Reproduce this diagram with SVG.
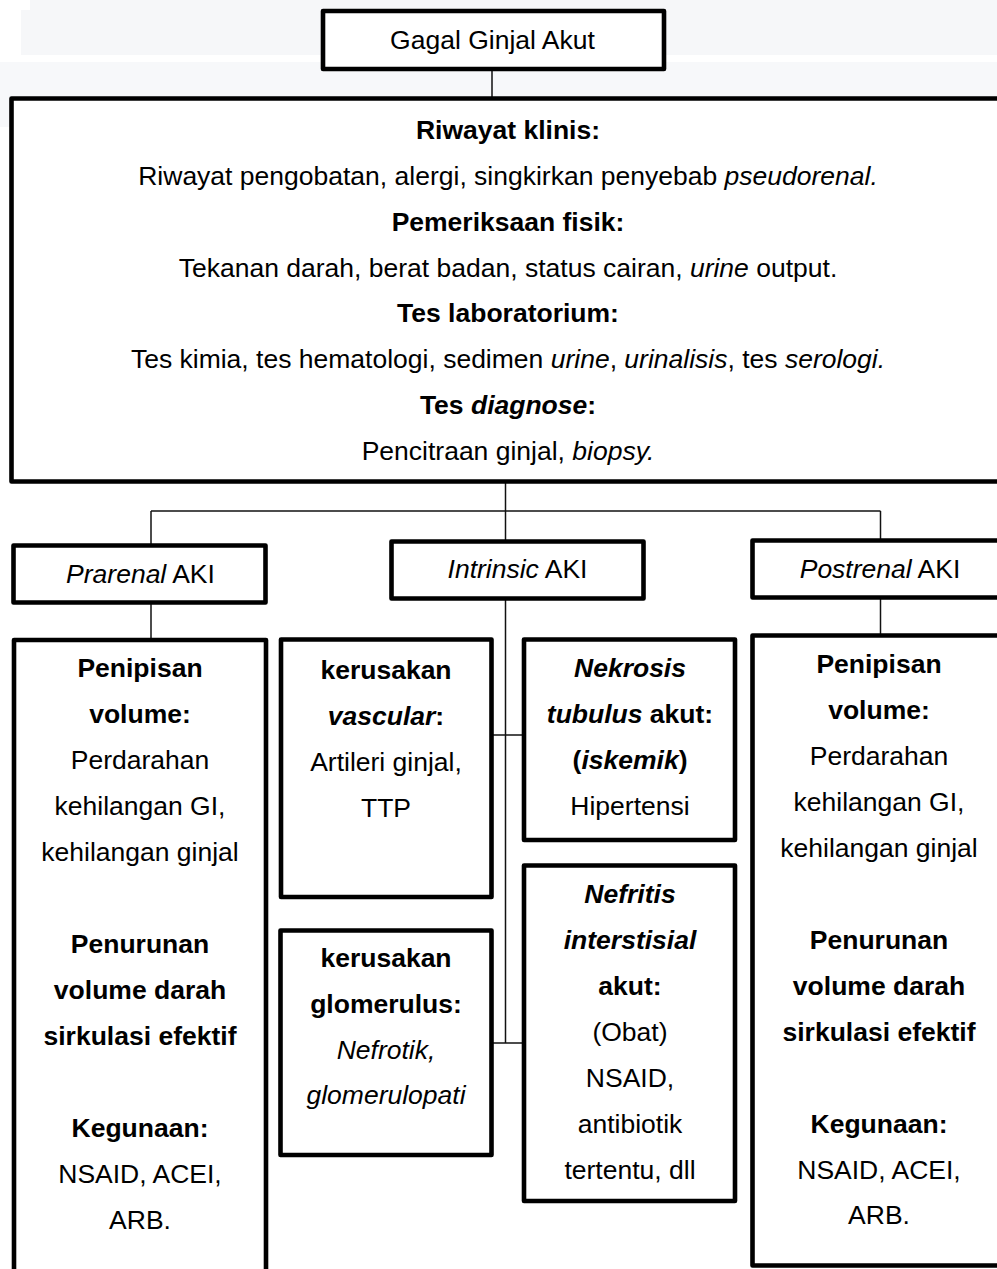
<svg xmlns="http://www.w3.org/2000/svg" width="997" height="1269" viewBox="0 0 997 1269">
<style>
.box{fill:#fff;stroke:#000;stroke-width:4.6;stroke-linejoin:round}
.ln{stroke:#111;stroke-width:1.5;fill:none}
text{font-family:"Liberation Sans",Arial,sans-serif;font-size:26.5px;fill:#000;text-anchor:middle}
.b{font-weight:bold}
.i{font-style:italic}
</style>
<rect x="0" y="0" width="997" height="1269" fill="#fff"/>
<g id="background">
<rect x="30" y="0" width="967" height="10" fill="#f6f7f9"/>
<rect x="21" y="10" width="976" height="45" fill="#f6f7f9"/>
<rect x="0" y="62" width="997" height="36" fill="#f7f8fa"/>
<rect x="0" y="98" width="10" height="29" fill="#f7f8fa"/>
</g>
<g id="connectors">
<line class="ln" x1="492" y1="69" x2="492" y2="98"/>
<line class="ln" x1="505.5" y1="481" x2="505.5" y2="541"/>
<line class="ln" x1="151" y1="511" x2="880.5" y2="511"/>
<line class="ln" x1="151" y1="511" x2="151" y2="545"/>
<line class="ln" x1="880.5" y1="511" x2="880.5" y2="541"/>
<line class="ln" x1="151" y1="602" x2="151" y2="640"/>
<line class="ln" x1="880.5" y1="597" x2="880.5" y2="636"/>
<line class="ln" x1="505.5" y1="598" x2="505.5" y2="1043"/>
<line class="ln" x1="491" y1="735" x2="524" y2="735"/>
<line class="ln" x1="491" y1="1043" x2="524" y2="1043"/>
</g>
<g id="title">
<rect class="box" x="323" y="11" width="341" height="58"/>
<text x="492.5" y="48.5">Gagal Ginjal Akut</text>
</g>
<g id="main">
<rect class="box" x="11.5" y="98.5" width="995" height="383"/>
<text x="508" y="139" class="b">Riwayat klinis:</text>
<text x="508" y="185">Riwayat pengobatan, alergi, singkirkan penyebab <tspan class="i">pseudorenal.</tspan></text>
<text x="508" y="231" class="b">Pemeriksaan fisik:</text>
<text x="508" y="277">Tekanan darah, berat badan, status cairan, <tspan class="i">urine</tspan> output.</text>
<text x="508" y="322" class="b">Tes laboratorium:</text>
<text x="508" y="368">Tes kimia, tes hematologi, sedimen <tspan class="i">urine</tspan>, <tspan class="i">urinalisis</tspan>, tes <tspan class="i">serologi.</tspan></text>
<text x="508" y="414" class="b">Tes <tspan class="i">diagnose</tspan>:</text>
<text x="508" y="460">Pencitraan ginjal, <tspan class="i">biopsy.</tspan></text>
</g>
<g id="prarenal">
<rect class="box" x="13.5" y="545.5" width="252" height="57"/>
<text x="140.5" y="583"><tspan class="i">Prarenal</tspan> AKI</text>
</g>
<g id="intrinsic">
<rect class="box" x="391.5" y="541.5" width="252" height="57"/>
<text x="517.5" y="578"><tspan class="i">Intrinsic</tspan> AKI</text>
</g>
<g id="postrenal">
<rect class="box" x="752.5" y="540.5" width="256" height="57"/>
<text x="880" y="578"><tspan class="i">Postrenal</tspan> AKI</text>
</g>
<g id="prarenal-detail">
<rect class="box" x="14" y="640" width="252" height="660"/>
<text x="140" y="677" class="b">Penipisan</text>
<text x="140" y="723" class="b">volume:</text>
<text x="140" y="769">Perdarahan</text>
<text x="140" y="815">kehilangan GI,</text>
<text x="140" y="861">kehilangan ginjal</text>
<text x="140" y="953" class="b">Penurunan</text>
<text x="140" y="999" class="b">volume darah</text>
<text x="140" y="1045" class="b">sirkulasi efektif</text>
<text x="140" y="1137" class="b">Kegunaan:</text>
<text x="140" y="1183">NSAID, ACEI,</text>
<text x="140" y="1229">ARB.</text>
</g>
<g id="vascular">
<rect class="box" x="281" y="639.5" width="210.5" height="257.5"/>
<text x="386" y="679" class="b">kerusakan</text>
<text x="386" y="725" class="b"><tspan class="i">vascular</tspan>:</text>
<text x="386" y="771">Artileri ginjal,</text>
<text x="386" y="817">TTP</text>
</g>
<g id="glomerulus">
<rect class="box" x="280.5" y="930.5" width="211" height="224.5"/>
<text x="386" y="967" class="b">kerusakan</text>
<text x="386" y="1013" class="b">glomerulus:</text>
<text x="386" y="1059" class="i">Nefrotik,</text>
<text x="386" y="1104" class="i">glomerulopati</text>
</g>
<g id="nekrosis">
<rect class="box" x="524" y="639.5" width="211" height="200.5"/>
<text x="630" y="677" class="b i">Nekrosis</text>
<text x="630" y="723" class="b"><tspan class="i">tubulus</tspan> akut:</text>
<text x="630" y="769" class="b">(<tspan class="i">iskemik</tspan>)</text>
<text x="630" y="815">Hipertensi</text>
</g>
<g id="nefritis">
<rect class="box" x="524" y="865.5" width="211" height="335.5"/>
<text x="630" y="903" class="b i">Nefritis</text>
<text x="630" y="949" class="b i">interstisial</text>
<text x="630" y="995" class="b">akut:</text>
<text x="630" y="1041">(Obat)</text>
<text x="630" y="1087">NSAID,</text>
<text x="630" y="1133">antibiotik</text>
<text x="630" y="1179">tertentu, dll</text>
</g>
<g id="postrenal-detail">
<rect class="box" x="752.5" y="635.5" width="254" height="630"/>
<text x="879" y="673" class="b">Penipisan</text>
<text x="879" y="719" class="b">volume:</text>
<text x="879" y="765">Perdarahan</text>
<text x="879" y="811">kehilangan GI,</text>
<text x="879" y="857">kehilangan ginjal</text>
<text x="879" y="949" class="b">Penurunan</text>
<text x="879" y="995" class="b">volume darah</text>
<text x="879" y="1041" class="b">sirkulasi efektif</text>
<text x="879" y="1133" class="b">Kegunaan:</text>
<text x="879" y="1179">NSAID, ACEI,</text>
<text x="879" y="1224">ARB.</text>
</g>
</svg>
